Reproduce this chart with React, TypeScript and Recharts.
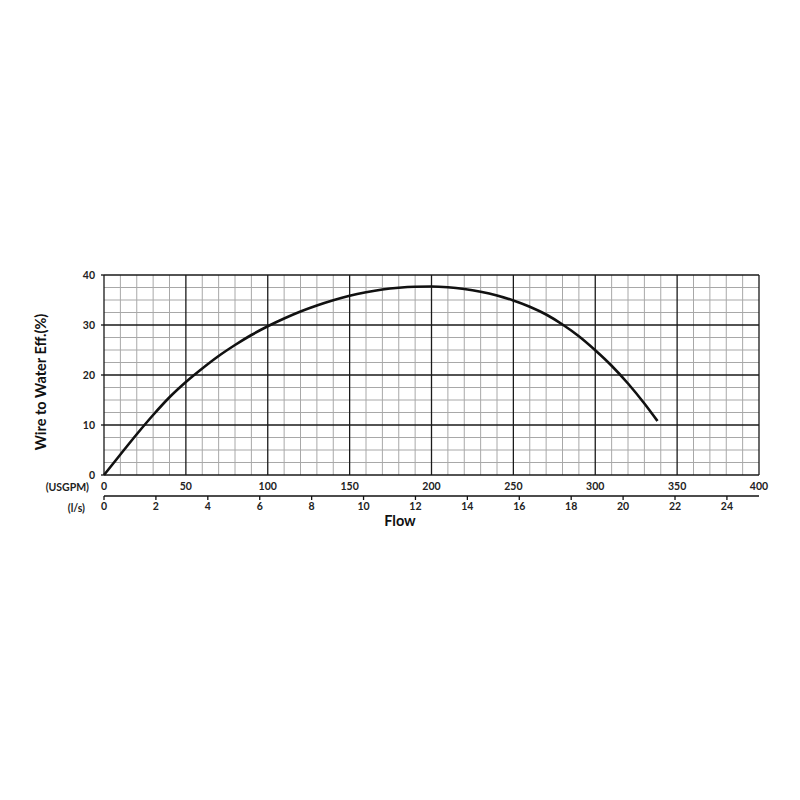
import React from "react";
import { LineChart, Line, XAxis, YAxis, ReferenceLine, Label } from "recharts";

const flowUSGPM = [0, 10, 20, 30, 40, 50, 60, 70, 80, 90, 100, 110, 120, 130, 140, 150, 160, 170, 180, 190, 200, 210, 220, 230, 240, 250, 260, 270, 280, 290, 300, 310, 320, 330, 338];
const efficiency = [0, 4.1, 8.15, 12.0, 15.55, 18.6, 21.3, 23.8, 26.0, 28.0, 29.75, 31.3, 32.7, 33.9, 34.95, 35.85, 36.55, 37.1, 37.45, 37.65, 37.7, 37.55, 37.2, 36.65, 35.9, 34.9, 33.65, 32.1, 30.1, 27.75, 24.95, 21.85, 18.3, 14.3, 10.8];

const usgpmTicks = [0, 50, 100, 150, 200, 250, 300, 350, 400];
const lsTicks = [0, 2, 4, 6, 8, 10, 12, 14, 16, 18, 20, 22, 24];
const effTicks = [0, 10, 20, 30, 40];
const minorX = [10, 20, 30, 40, 60, 70, 80, 90, 110, 120, 130, 140, 160, 170, 180, 190, 210, 220, 230, 240, 260, 270, 280, 290, 310, 320, 330, 340, 360, 370, 380, 390];
const minorY = [2.5, 5, 7.5, 12.5, 15, 17.5, 22.5, 25, 27.5, 32.5, 35, 37.5];

const USGPM_PER_LS = 15.8503;

const data = flowUSGPM.map((q, i) => ({ q, ls: q / USGPM_PER_LS, eff: efficiency[i] }));

const FONT = "Lato, 'Open Sans', sans-serif";
const tickStyle = { fontSize: 10.5, fontWeight: 700, fill: "#222", fontFamily: FONT };

export default function App() {
  return (
    <div style={{ position: "absolute", left: 0, top: 0, width: 800, height: 800, background: "#fff" }}>
      <LineChart
        width={800}
        height={800}
        data={data}
        margin={{ top: 275, right: 41, bottom: 267, left: 40 }}
        style={{ fontFamily: FONT }}
      >
        <XAxis
          xAxisId="gpm"
          dataKey="q"
          type="number"
          domain={[0, 400]}
          ticks={usgpmTicks}
          axisLine={false}
          tickLine={false}
          height={21}
          tick={tickStyle}
          interval={0}
        >
          <Label value="(USGPM)" position="left" offset={15} dy={2} style={{ fontSize: 10.5, fontWeight: 700, fill: "#222", fontFamily: FONT }} />
        </XAxis>
        <XAxis
          xAxisId="ls"
          dataKey="ls"
          type="number"
          domain={[0, 400 / USGPM_PER_LS]}
          allowDataOverflow
          ticks={lsTicks}
          axisLine={{ stroke: "#111", strokeWidth: 1.3 }}
          tickLine={{ stroke: "#111", strokeWidth: 1.3 }}
          tickSize={4}
          tickMargin={3}
          height={37}
          tick={tickStyle}
          interval={0}
        >
          <Label value="(l/s)" position="left" offset={19} dy={-6} style={{ fontSize: 10.5, fontWeight: 700, fill: "#222", fontFamily: FONT }} />
          <Label value="Flow" position="insideBottom" offset={7} dx={-31.5} style={{ fontSize: 14.5, fontWeight: 700, fill: "#111", fontFamily: FONT }} />
        </XAxis>
        <YAxis
          yAxisId="eff"
          type="number"
          domain={[0, 40]}
          ticks={effTicks}
          width={64}
          axisLine={false}
          tickLine={{ stroke: "#111", strokeWidth: 1.3 }}
          tickSize={3}
          tickMargin={6}
          tick={tickStyle}
          interval={0}
        >
          <Label value="Wire to Water Eff.(%)" angle={-90} position="insideLeft" offset={1} dy={7} style={{ textAnchor: "middle", fontSize: 14.5, fontWeight: 700, fill: "#111", fontFamily: FONT }} />
        </YAxis>
        {minorX.map((v) => (
          <ReferenceLine key={"mx" + v} x={v} xAxisId="gpm" yAxisId="eff" stroke="#a8a8a8" strokeWidth={1} />
        ))}
        {minorY.map((v) => (
          <ReferenceLine key={"my" + v} y={v} xAxisId="gpm" yAxisId="eff" stroke="#a8a8a8" strokeWidth={1} />
        ))}
        {usgpmTicks.map((v) => (
          <ReferenceLine key={"Mx" + v} x={v} xAxisId="gpm" yAxisId="eff" stroke="#1a1a1a" strokeWidth={1.3} />
        ))}
        {effTicks.map((v) => (
          <ReferenceLine key={"My" + v} y={v} xAxisId="gpm" yAxisId="eff" stroke="#1a1a1a" strokeWidth={1.3} />
        ))}
        <Line
          xAxisId="gpm"
          yAxisId="eff"
          dataKey="eff"
          type="monotone"
          stroke="#111"
          strokeWidth={2.6}
          dot={false}
          isAnimationActive={false}
        />
      </LineChart>
    </div>
  );
}
